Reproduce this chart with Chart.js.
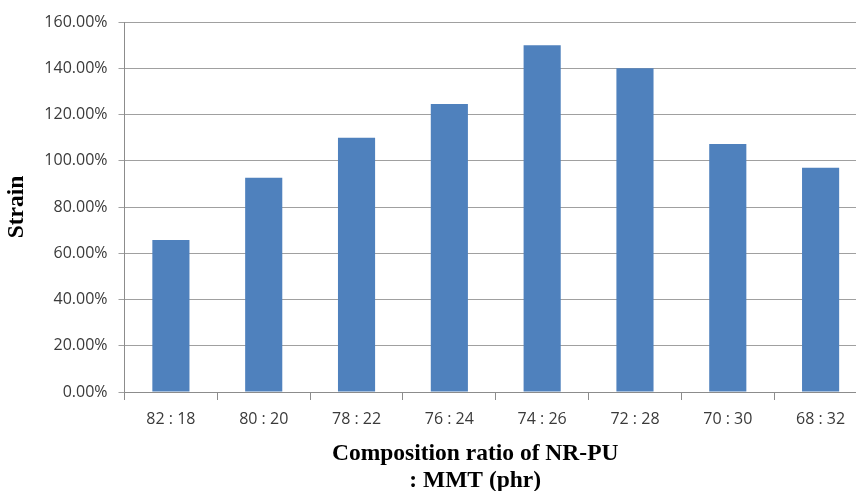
<!DOCTYPE html>
<html>
<head>
<meta charset="utf-8">
<script src="https://cdn.jsdelivr.net/npm/chart.js@4"></script>
<style>
  html, body { margin: 0; padding: 0; background: #fff; overflow: hidden; }
  #wrap { width: 867px; height: 491px; position: relative; }
</style>
</head>
<body>
<div id="wrap"><canvas id="strainChart"></canvas></div>
<script>
// composition ratio NR-PU : MMT (phr)
const ratios = ['82 : 18', '80 : 20', '78 : 22', '76 : 24', '74 : 26', '72 : 28', '70 : 30', '68 : 32'];
// strain in percent
const strain = [65.7, 92.7, 110.0, 124.5, 150.0, 140.0, 107.2, 97.0];
const yTicks = [0, 20, 40, 60, 80, 100, 120, 140, 160];

const tickFont = { family: '"Open Sans", "Liberation Sans", sans-serif', size: 16 };
const titleFont = { family: '"Liberation Serif", "Times New Roman", serif', size: 23.5, weight: 'bold', lineHeight: 1.16 };

const ctx = document.getElementById('strainChart').getContext('2d');
const myChart = new Chart(ctx, {
  type: 'bar',
  data: {
    labels: ratios,
    datasets: [{
      label: 'Strain',
      data: strain,
      backgroundColor: '#4F81BD',
      borderWidth: 0,
      barPercentage: 0.4,
      categoryPercentage: 1.0
    }]
  },
  options: {
    responsive: true,
    maintainAspectRatio: false,
    animation: false,
    layout: { padding: { top: 22, left: 0, right: 0, bottom: 0 } },
    plugins: {
      legend: { display: false },
      tooltip: { enabled: false }
    },
    scales: {
      x: {
        afterFit: (axis) => { axis.height = 99; },
        grid: { drawOnChartArea: false, drawTicks: true, tickLength: 8, color: '#8c8c8c', offset: true },
        border: { color: '#8c8c8c' },
        ticks: { color: '#3a3a3a', font: tickFont, padding: 10 },
        title: {
          display: true,
          text: ['Composition ratio of NR-PU       ', ': MMT (phr)       '],
          color: '#000',
          font: titleFont,
          padding: { top: 0, bottom: -4 }
        }
      },
      y: {
        min: 0,
        max: 160,
        afterBuildTicks: (axis) => { axis.ticks = yTicks.map(v => ({ value: v })); },
        afterFit: (axis) => { axis.width = 124.5; },
        grid: { color: '#a0a0a0', tickLength: 6 },
        border: { color: '#8c8c8c' },
        ticks: {
          color: '#3a3a3a',
          font: tickFont,
          padding: 11,
          callback: (v) => v.toFixed(2) + '%'
        },
        title: {
          display: true,
          text: 'Strain',
          color: '#000',
          font: titleFont,
          padding: { top: 3, bottom: 0 }
        }
      }
    }
  }
});
</script>
</body>
</html>
